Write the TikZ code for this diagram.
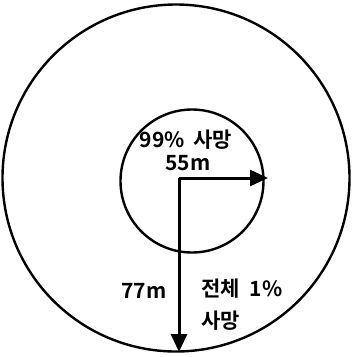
\documentclass[tikz,border=0pt]{standalone}
\usepackage{fontspec}
\newfontfamily\kr{Noto Sans CJK KR Bold}
\usetikzlibrary{arrows.meta}
\begin{document}
\begin{tikzpicture}[x=1pt,y=-1pt,
  ring/.style={draw=black,line width=2.4pt},
  lbl/.style={font=\kr\fontsize{21}{23}\selectfont,inner sep=0pt},
  arr/.style={line width=3pt,-{Triangle[length=18pt,width=16pt]}}]
\useasboundingbox (0,0) rectangle (352,357);
\node[ring,circle,minimum size=347pt,inner sep=0pt] (outer) at (176,178) {};
\node[ring,circle,minimum size=143pt,inner sep=0pt] (inner) at (192,181) {};
\coordinate (o) at (179,178);
\coordinate (r1) at (268,178);
\coordinate (r2) at (179,352);
\draw[arr] (o) -- (r1);
\draw[arr] (o) -- (r2);
\node[lbl] (t1) at (186,140) {99\%\hspace{9pt}사망};
\node[lbl] (t2) at (188,163) {55m};
\node[lbl] (t3) at (144,291) {77m};
\node[lbl,anchor=west] (t4) at (201,289) {전체\hspace{10pt}1\%};
\node[lbl,anchor=west] (t5) at (201,321) {사망};
\end{tikzpicture}
\end{document}
